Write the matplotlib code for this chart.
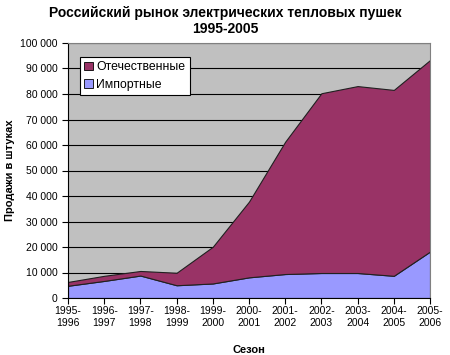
import matplotlib
matplotlib.use("Agg")
import matplotlib.pyplot as plt
from matplotlib.patches import Patch

plt.rcParams["font.family"] = ["Liberation Sans", "DejaVu Sans"]

# Данные (оценка по графику)
seasons = ["1995-\n1996", "1996-\n1997", "1997-\n1998", "1998-\n1999", "1999-\n2000",
           "2000-\n2001", "2001-\n2002", "2002-\n2003", "2003-\n2004", "2004-\n2005",
           "2005-\n2006"]
imports = [4800, 6700, 8800, 5000, 5700, 8100, 9400, 9800, 9800, 8700, 18200]
domestic = [1500, 2000, 1800, 4900, 14400, 29700, 51900, 70500, 73300, 72900, 75100]

color_dom = "#993366"
color_imp = "#9999FF"

fig = plt.figure(figsize=(4.5, 3.55), dpi=100)
ax = fig.add_axes([68 / 450, 1 - 298 / 355, (430 - 68) / 450, (298 - 43) / 355])
ax.set_facecolor("#C0C0C0")

x = list(range(len(seasons)))
ax.stackplot(x, imports, domestic, colors=[color_imp, color_dom],
             edgecolor="#202020", linewidth=0.8, zorder=2)

ax.set_xlim(0, len(seasons) - 1)
ax.set_ylim(0, 100000)
ax.set_yticks(range(0, 100001, 10000))
ax.set_yticklabels([f"{v:,}".replace(",", " ") for v in range(0, 100001, 10000)])
ax.set_xticks(x)
ax.set_xticklabels(seasons)
ax.tick_params(axis="both", labelsize=7.5, length=4, width=0.8, direction="out")
ax.tick_params(axis="x", pad=2)

ax.yaxis.grid(True, color="black", linewidth=0.8, zorder=1)
ax.set_axisbelow(True)
for side in ["top", "right"]:
    ax.spines[side].set_color("#808080")
for side in ["left", "bottom"]:
    ax.spines[side].set_color("black")

ax.set_xlabel("Сезон", fontsize=8, fontweight="bold", labelpad=12)
fig.text(10 / 450, 1 - 170 / 355, "Продажи в штуках", rotation=90,
         ha="center", va="center", fontsize=8, fontweight="bold")
fig.suptitle("Российский рынок электрических тепловых пушек\n1995-2005",
             fontsize=10, fontweight="bold", y=0.983, linespacing=1.2)

handles = [Patch(facecolor=color_dom, edgecolor="black", linewidth=0.6),
           Patch(facecolor=color_imp, edgecolor="black", linewidth=0.6)]
leg = ax.legend(handles, ["Отечественные", "Импортные"], loc="upper left",
                bbox_to_anchor=(0.033, 0.945), fontsize=8.8, frameon=True,
                fancybox=False, handlelength=0.7, handleheight=0.7,
                handletextpad=0.3, borderpad=0.35, labelspacing=0.45,
                borderaxespad=0)
leg.get_frame().set_edgecolor("black")
leg.get_frame().set_linewidth(0.8)
leg.get_frame().set_facecolor("white")
leg.get_frame().set_alpha(1)

fig.savefig("out.png", dpi=100)
